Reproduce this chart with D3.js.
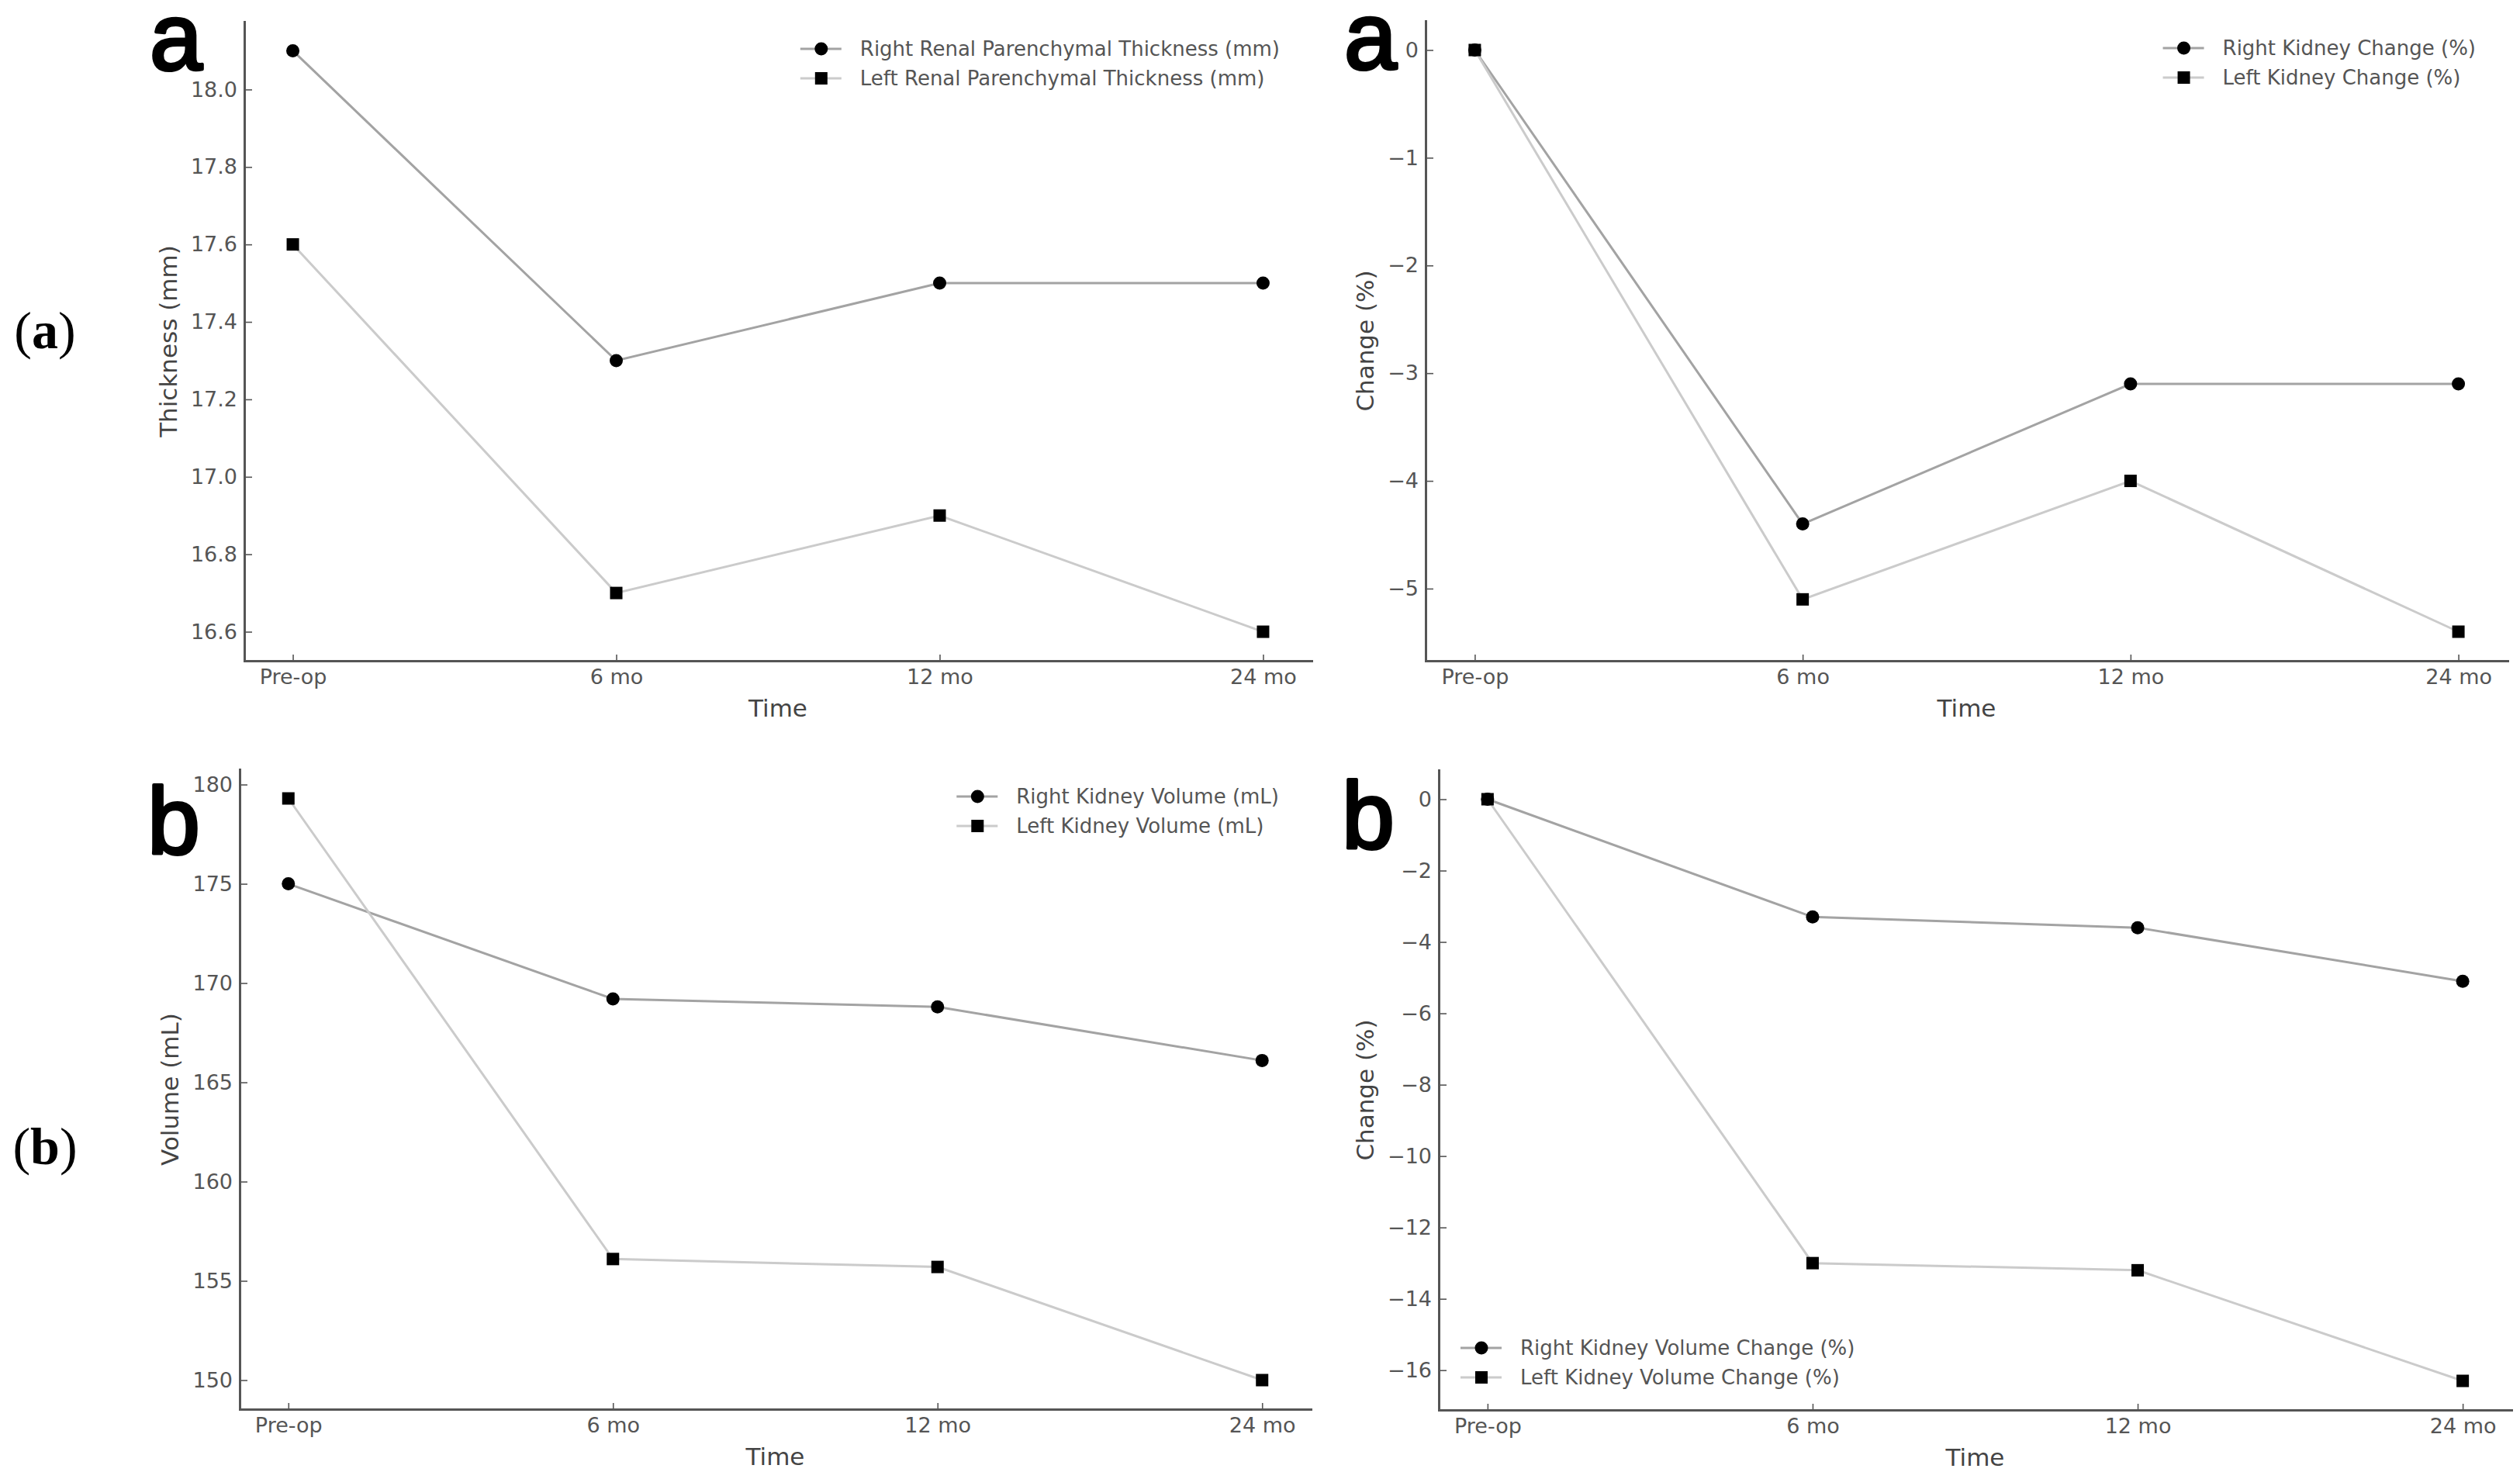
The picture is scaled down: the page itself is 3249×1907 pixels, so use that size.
<!DOCTYPE html>
<html>
<head>
<meta charset="utf-8">
<script src="https://cdn.jsdelivr.net/npm/d3@7/dist/d3.min.js"></script>
<style>
  html, body { margin: 0; padding: 0; background: #ffffff; }
  svg { display: block; }
</style>
</head>
<body>
<svg id="chart" width="3249" height="1907"></svg>
<script>
// time points shared by every panel
var timeLabels = ['Pre-op', '6 mo', '12 mo', '24 mo'];

// (a) renal parenchymal thickness
var rightThickness = [18.1, 17.3, 17.5, 17.5];
var leftThickness = [17.6, 16.7, 16.9, 16.6];
var thicknessTicks = [16.6, 16.8, 17.0, 17.2, 17.4, 17.6, 17.8, 18.0];

// (a) thickness change in percent
var rightThicknessChange = [0, -4.4, -3.1, -3.1];
var leftThicknessChange = [0, -5.1, -4.0, -5.4];
var thicknessChangeTicks = [0, -1, -2, -3, -4, -5];

// (b) kidney volume
var rightVolume = [175.0, 169.2, 168.8, 166.1];
var leftVolume = [179.3, 156.1, 155.7, 150.0];
var volumeTicks = [150, 155, 160, 165, 170, 175, 180];

// (b) volume change in percent
var rightVolumeChange = [0, -3.3, -3.6, -5.1];
var leftVolumeChange = [0, -13.0, -13.2, -16.3];
var volumeChangeTicks = [0, -2, -4, -6, -8, -10, -12, -14, -16];

var svg = d3.select('#chart');
var font = 'DejaVu Sans, Verdana, sans-serif';
var axisColor = '#555555';
var rightColor = '#a3a3a3',
    leftColor = '#cbcbcb';

//panel definitions (layout only, the values come from the arrays above)
var panels = [
    { left: 315, right: 1691, top: 28, bottom: 852,
      right_s: rightThickness, left_s: leftThickness, ticks: thicknessTicks, fmt: d3.format('.1f'),
      ylabel: 'Thickness (mm)', names: ['Right Renal Parenchymal Thickness (mm)', 'Left Renal Parenchymal Thickness (mm)'],
      legend: 'upper right', letter: 'a', letterX: 193, letterY: 90 },
    { left: 1838, right: 3233, top: 27, bottom: 852,
      right_s: rightThicknessChange, left_s: leftThicknessChange, ticks: thicknessChangeTicks, fmt: d3.format('d'),
      ylabel: 'Change (%)', names: ['Right Kidney Change (%)', 'Left Kidney Change (%)'],
      legend: 'upper right', letter: 'a', letterX: 1733, letterY: 89 },
    { left: 309, right: 1690, top: 992, bottom: 1817,
      right_s: rightVolume, left_s: leftVolume, ticks: volumeTicks, fmt: d3.format('d'),
      ylabel: 'Volume (mL)', names: ['Right Kidney Volume (mL)', 'Left Kidney Volume (mL)'],
      legend: 'upper right', letter: 'b', letterX: 190, letterY: 1101 },
    { left: 1855, right: 3238, top: 993, bottom: 1818,
      right_s: rightVolumeChange, left_s: leftVolumeChange, ticks: volumeChangeTicks, fmt: d3.format('d'),
      ylabel: 'Change (%)', names: ['Right Kidney Volume Change (%)', 'Left Kidney Volume Change (%)'],
      legend: 'lower left', letter: 'b', letterX: 1730, letterY: 1094 }
];

//draws a marker (circle for right, square for left)
function drawMarker(g, kind, cx, cy) {
    if (kind === 'circle') {
        g.append('circle').attr('cx', cx).attr('cy', cy).attr('r', 8.5).attr('fill', '#000');
    } else {
        g.append('rect').attr('x', cx - 8).attr('y', cy - 8)
            .attr('width', 16).attr('height', 16).attr('fill', '#000');
    }
}

function styleAxis(g) {
    g.select('.domain').attr('stroke', axisColor).attr('stroke-width', 3).attr('stroke-linecap', 'square');
    g.selectAll('.tick line').attr('stroke', axisColor).attr('stroke-width', 1.6);
    g.selectAll('.tick text').attr('fill', axisColor).attr('font-size', 27).attr('font-family', font);
}

panels.forEach(function (p) {
    var g = svg.append('g');
    var all = p.right_s.concat(p.left_s);
    var ext = d3.extent(all), pad = (ext[1] - ext[0]) * 0.05;

    var x = d3.scaleLinear().domain([-0.15, timeLabels.length - 1 + 0.15]).range([p.left, p.right]);
    var y = d3.scaleLinear().domain([ext[0] - pad, ext[1] + pad]).range([p.bottom, p.top]);

    //x axis
    var xg = g.append('g')
        .attr('transform', 'translate(0,' + p.bottom + ')')
        .call(d3.axisBottom(x)
            .tickValues(d3.range(timeLabels.length))
            .tickFormat(function (i) { return timeLabels[i]; })
            .tickSizeInner(-8).tickSizeOuter(0).tickPadding(11));
    styleAxis(xg);

    //y axis
    var yg = g.append('g')
        .attr('transform', 'translate(' + p.left + ',0)')
        .call(d3.axisLeft(y)
            .tickValues(p.ticks)
            .tickFormat(p.fmt)
            .tickSizeInner(-10).tickSizeOuter(0).tickPadding(9));
    styleAxis(yg);

    //axis labels
    g.append('text')
        .attr('x', (p.left + p.right) / 2).attr('y', p.bottom + 61)
        .attr('text-anchor', 'middle').attr('dominant-baseline', 'central')
        .attr('font-family', font).attr('font-size', 31).attr('fill', '#444')
        .text('Time');

    var tb = yg.node().getBBox();
    g.append('text')
        .attr('transform', 'translate(' + (p.left + tb.x - 18) + ',' + ((p.top + p.bottom) / 2) + ') rotate(-90)')
        .attr('text-anchor', 'middle')
        .attr('font-family', font).attr('font-size', 31).attr('fill', '#444')
        .text(p.ylabel);

    //series lines and markers
    var line = d3.line().x(function (d, i) { return x(i); }).y(function (d) { return y(d); });
    [[p.right_s, rightColor, 'circle'], [p.left_s, leftColor, 'square']].forEach(function (s) {
        g.append('path').datum(s[0])
            .attr('d', line).attr('fill', 'none')
            .attr('stroke', s[1]).attr('stroke-width', 3);
        var mg = g.append('g');
        s[0].forEach(function (v, i) { drawMarker(mg, s[2], x(i), y(v)); });
    });

    //legend
    var lg = g.append('g');
    var texts = p.names.map(function (n) {
        return lg.append('text').attr('font-family', font).attr('font-size', 26)
            .attr('fill', '#555').attr('dominant-baseline', 'central').text(n);
    });
    var maxW = d3.max(texts, function (t) { return t.node().getComputedTextLength(); });
    var x0, y0;
    if (p.legend === 'upper right') {
        x0 = p.right - 41 - maxW - 77;
        y0 = p.top + 35;
    } else {
        x0 = p.left + 28;
        y0 = p.bottom - 42 - 38;
    }
    [[rightColor, 'circle'], [leftColor, 'square']].forEach(function (h, i) {
        var cy = y0 + i * 38;
        lg.append('line').attr('x1', x0).attr('x2', x0 + 53).attr('y1', cy).attr('y2', cy)
            .attr('stroke', h[0]).attr('stroke-width', 3);
        drawMarker(lg, h[1], x0 + 27, cy);
        texts[i].attr('x', x0 + 77).attr('y', cy);
    });

    //panel letter
    svg.append('text')
        .attr('x', p.letterX).attr('y', p.letterY)
        .attr('font-family', 'Liberation Sans, Arial, sans-serif').attr('font-size', 122)
        .attr('fill', '#000').attr('stroke', '#000').attr('stroke-width', 4)
        .attr('stroke-linejoin', 'round')
        .text(p.letter);
});

//row labels at the far left
[['a', 449], ['b', 1501]].forEach(function (r) {
    var t = svg.append('text')
        .attr('x', 58).attr('y', r[1])
        .attr('text-anchor', 'middle')
        .attr('font-family', 'Liberation Serif, Times New Roman, serif').attr('font-size', 68)
        .attr('fill', '#000');
    t.append('tspan').text('(');
    t.append('tspan').attr('font-weight', 'bold').text(r[0]);
    t.append('tspan').text(')');
});
</script>
</body>
</html>
